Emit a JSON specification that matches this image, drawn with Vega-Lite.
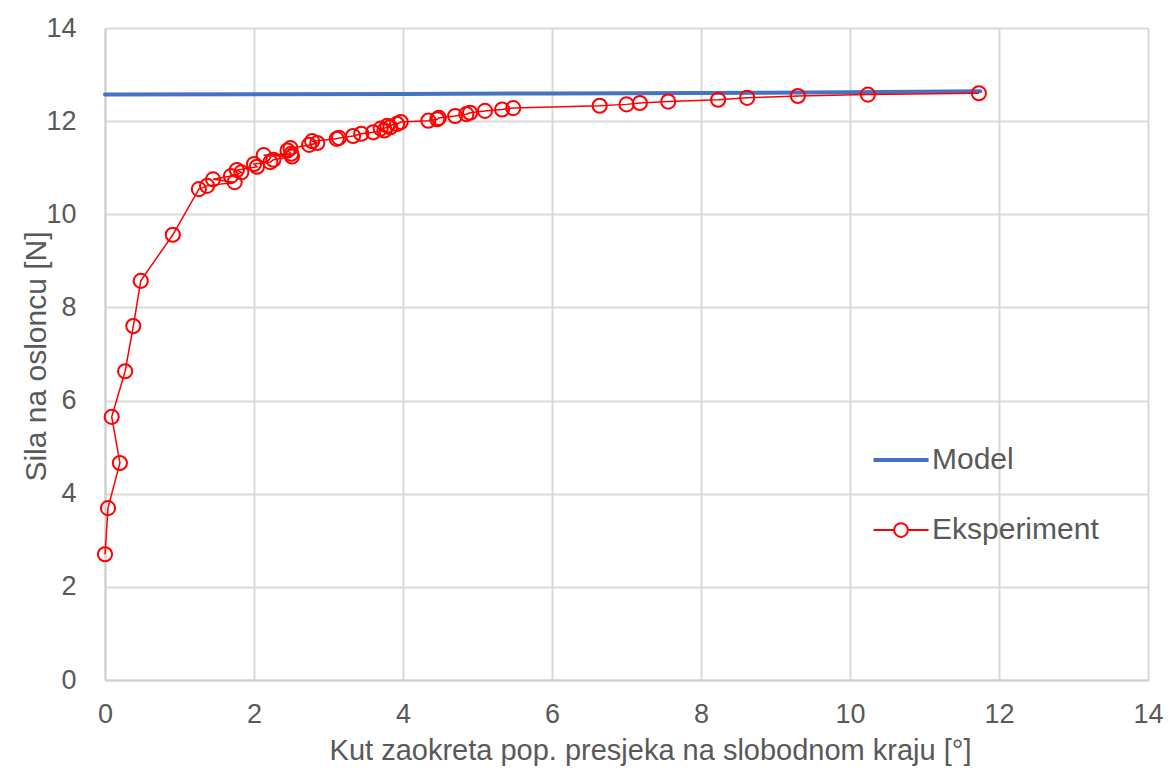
{
  "$schema": "https://vega.github.io/schema/vega-lite/v6.json",
  "width": 1043,
  "height": 652,
  "autosize": {"type": "none"},
  "padding": {"left": 105, "top": 28, "right": 28, "bottom": 89},
  "background": "white",
  "config": {"view": {"stroke": null}, "font": "Liberation Sans"},
  "datasets": {
    "model": [
      {"s": "Model", "x": 0, "y": 12.57},
      {"s": "Model", "x": 2, "y": 12.575},
      {"s": "Model", "x": 4, "y": 12.585},
      {"s": "Model", "x": 6, "y": 12.595},
      {"s": "Model", "x": 8, "y": 12.605},
      {"s": "Model", "x": 10, "y": 12.62},
      {"s": "Model", "x": 11.75, "y": 12.64}
    ],
    "exp": [
      {"s": "Eksperiment", "x": 0.0, "y": 2.70},
      {"s": "Eksperiment", "x": 0.04, "y": 3.69},
      {"s": "Eksperiment", "x": 0.2, "y": 4.66},
      {"s": "Eksperiment", "x": 0.09, "y": 5.65},
      {"s": "Eksperiment", "x": 0.27, "y": 6.63},
      {"s": "Eksperiment", "x": 0.38, "y": 7.60},
      {"s": "Eksperiment", "x": 0.48, "y": 8.57},
      {"s": "Eksperiment", "x": 0.91, "y": 9.56},
      {"s": "Eksperiment", "x": 1.26, "y": 10.54},
      {"s": "Eksperiment", "x": 1.37, "y": 10.61},
      {"s": "Eksperiment", "x": 1.74, "y": 10.69},
      {"s": "Eksperiment", "x": 1.45, "y": 10.75},
      {"s": "Eksperiment", "x": 1.69, "y": 10.82},
      {"s": "Eksperiment", "x": 1.83, "y": 10.90},
      {"s": "Eksperiment", "x": 1.77, "y": 10.95},
      {"s": "Eksperiment", "x": 2.04, "y": 11.02},
      {"s": "Eksperiment", "x": 2.0, "y": 11.08},
      {"s": "Eksperiment", "x": 2.22, "y": 11.12},
      {"s": "Eksperiment", "x": 2.26, "y": 11.17},
      {"s": "Eksperiment", "x": 2.51, "y": 11.24},
      {"s": "Eksperiment", "x": 2.13, "y": 11.27},
      {"s": "Eksperiment", "x": 2.5, "y": 11.30},
      {"s": "Eksperiment", "x": 2.45, "y": 11.37},
      {"s": "Eksperiment", "x": 2.49, "y": 11.42},
      {"s": "Eksperiment", "x": 2.74, "y": 11.49},
      {"s": "Eksperiment", "x": 2.85, "y": 11.53},
      {"s": "Eksperiment", "x": 2.78, "y": 11.57},
      {"s": "Eksperiment", "x": 3.11, "y": 11.62},
      {"s": "Eksperiment", "x": 3.14, "y": 11.64},
      {"s": "Eksperiment", "x": 3.33, "y": 11.68},
      {"s": "Eksperiment", "x": 3.44, "y": 11.73},
      {"s": "Eksperiment", "x": 3.6, "y": 11.76},
      {"s": "Eksperiment", "x": 3.75, "y": 11.80},
      {"s": "Eksperiment", "x": 3.7, "y": 11.84},
      {"s": "Eksperiment", "x": 3.83, "y": 11.87},
      {"s": "Eksperiment", "x": 3.79, "y": 11.90},
      {"s": "Eksperiment", "x": 3.92, "y": 11.94},
      {"s": "Eksperiment", "x": 3.97, "y": 11.98},
      {"s": "Eksperiment", "x": 4.34, "y": 12.01},
      {"s": "Eksperiment", "x": 4.46, "y": 12.04},
      {"s": "Eksperiment", "x": 4.48, "y": 12.07},
      {"s": "Eksperiment", "x": 4.7, "y": 12.11},
      {"s": "Eksperiment", "x": 4.85, "y": 12.15},
      {"s": "Eksperiment", "x": 4.9, "y": 12.18},
      {"s": "Eksperiment", "x": 5.1, "y": 12.22},
      {"s": "Eksperiment", "x": 5.33, "y": 12.25},
      {"s": "Eksperiment", "x": 5.48, "y": 12.28},
      {"s": "Eksperiment", "x": 6.64, "y": 12.33},
      {"s": "Eksperiment", "x": 7.0, "y": 12.36},
      {"s": "Eksperiment", "x": 7.18, "y": 12.39},
      {"s": "Eksperiment", "x": 7.56, "y": 12.42},
      {"s": "Eksperiment", "x": 8.23, "y": 12.46},
      {"s": "Eksperiment", "x": 8.62, "y": 12.50},
      {"s": "Eksperiment", "x": 9.3, "y": 12.54},
      {"s": "Eksperiment", "x": 10.24, "y": 12.57},
      {"s": "Eksperiment", "x": 11.73, "y": 12.60}
    ]
  },
  "encoding": {
    "x": {
      "field": "x",
      "type": "quantitative",
      "scale": {"domain": [0, 14], "nice": false, "zero": false},
      "axis": {
        "values": [0, 2, 4, 6, 8, 10, 12, 14],
        "title": "Kut zaokreta pop. presjeka na slobodnom kraju [°]",
        "grid": true,
        "gridColor": "#D9D9D9",
        "gridWidth": 2,
        "domain": true,
        "domainColor": "#D0D0D0",
        "domainWidth": 2,
        "ticks": false,
        "tickSize": 0,
        "labelFontSize": 27,
        "labelColor": "#595959",
        "labelPadding": 21,
        "labelFlush": false,
        "titleFontSize": 29,
        "titleFontWeight": "normal",
        "titleColor": "#595959",
        "titleX": 545,
        "titleY": 70,
        "titleBaseline": "middle",
        "titleAlign": "center"
      }
    },
    "y": {
      "field": "y",
      "type": "quantitative",
      "scale": {"domain": [0, 14], "nice": false, "zero": false},
      "axis": {
        "values": [0, 2, 4, 6, 8, 10, 12, 14],
        "title": "Sila na osloncu [N]",
        "grid": true,
        "gridColor": "#D9D9D9",
        "gridWidth": 2,
        "domain": true,
        "domainColor": "#D0D0D0",
        "domainWidth": 2,
        "ticks": false,
        "tickSize": 0,
        "labelFontSize": 27,
        "labelColor": "#595959",
        "labelPadding": 29,
        "labelFlush": false,
        "titleFontSize": 30,
        "titleFontWeight": "normal",
        "titleColor": "#595959",
        "titleX": -69,
        "titleY": 328,
        "titleAngle": 270,
        "titleBaseline": "middle",
        "titleAlign": "center"
      }
    }
  },
  "layer": [
    {
      "data": {"name": "model"},
      "mark": {"type": "line", "strokeWidth": 4, "strokeCap": "round"},
      "encoding": {
        "color": {
          "field": "s",
          "type": "nominal",
          "scale": {"domain": ["Model", "Eksperiment"], "range": ["#4472C4", "#FF0000"]},
          "legend": {
            "orient": "none",
            "legendX": 781,
            "legendY": 417,
            "title": null,
            "padding": 0,
            "symbolType": "stroke",
            "symbolSize": 3025,
            "symbolStrokeWidth": 4,
            "labelFontSize": 30,
            "labelColor": "#595959",
            "labelOffset": 16,
            "labelLimit": 400,
            "rowPadding": 40,
            "encode": {
              "symbols": {
                "update": {
                  "shape": {"signal": "datum.value === 'Eksperiment' ? 'M-1,0H-0.25M0.25,0H1M0.25,0A0.25,0.25 0 1,1 -0.25,0A0.25,0.25 0 1,1 0.25,0' : 'stroke'"},
                  "strokeWidth": {"signal": "datum.value === 'Eksperiment' ? 2 : 4"},
                  "fill": {"value": "transparent"}
                }
              }
            }
          }
        },
        "order": {"value": null}
      }
    },
    {
      "data": {"name": "exp"},
      "mark": {"type": "line", "strokeWidth": 1.5},
      "encoding": {
        "color": {"field": "s", "type": "nominal"},
        "order": {"value": null}
      }
    },
    {
      "data": {"name": "exp"},
      "mark": {"type": "point", "shape": "circle", "filled": false, "stroke": "#FF0000", "strokeWidth": 2, "size": 200, "opacity": 1}
    }
  ]
}
